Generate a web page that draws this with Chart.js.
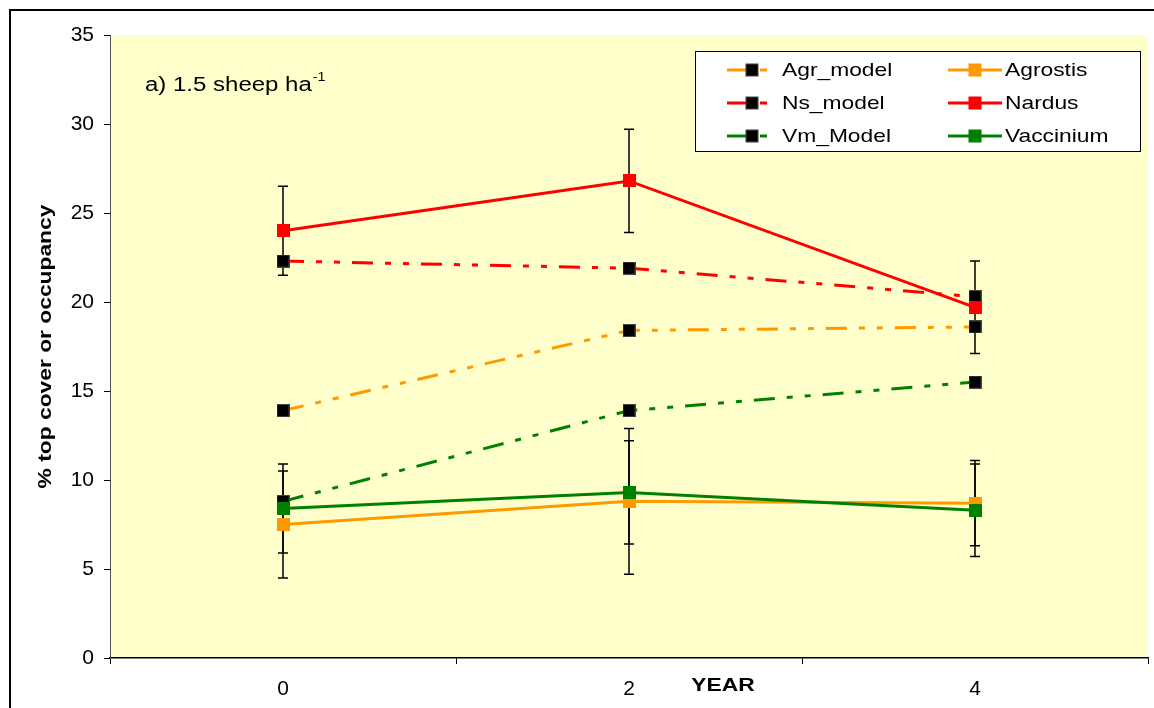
<!DOCTYPE html>
<html>
<head>
<meta charset="utf-8">
<script src="https://cdn.jsdelivr.net/npm/chart.js@4.4.1/dist/chart.umd.min.js"></script>
<style>
  html, body { margin: 0; padding: 0; background: #fff; }
  #wrap { width: 1154px; height: 708px; }
</style>
</head>
<body>
<div id="wrap"><canvas id="chart" width="1154" height="708"></canvas></div>
<script>
// values
const years = ['0', '2', '4'];
const yTicks = [0, 5, 10, 15, 20, 25, 30, 35];

const agrModel = [13.9, 18.4, 18.6];
const nsModel = [22.3, 21.9, 20.3];
const vmModel = [8.8, 13.9, 15.5];

const agrostis = [7.5, 8.8, 8.7];
const nardus = [24.0, 26.8, 19.7];
const vaccinium = [8.4, 9.3, 8.3];

// +/- error for the observed series
const agrostisErr = [3.0, 4.1, 2.4];
const nardusErr = [2.5, 2.9, 2.6];
const vacciniumErr = [2.5, 2.9, 2.6];

const ORANGE = '#FF9900';
const RED = '#FF0000';
const GREEN = '#008000';
const FONT = 'Arial, "Liberation Sans", sans-serif';
const STRETCH = 1.2; // the source text is a bit wider than plain Arial
const dashDotDot = [21, 12, 6, 12, 6, 12];

// square marker as a small canvas, so the layout does not reserve room for a big radius
function squareMarker(fill, edge) {
  const c = document.createElement('canvas');
  c.width = 13; c.height = 13;
  const g = c.getContext('2d');
  g.fillStyle = edge;
  g.fillRect(0, 0, 13, 13);
  g.fillStyle = fill;
  g.fillRect(1, 1, 11, 11);
  return c;
}

function modelSet(label, data, color, order) {
  return {
    label, data, order,
    borderColor: color,
    borderWidth: 3,
    borderDash: dashDotDot,
    pointStyle: squareMarker('#000', '#444'),
    pointRadius: 4,
    pointHoverRadius: 4,
    pointBorderWidth: 0,
    markerFill: '#000',
    markerEdge: '#444',
    tension: 0,
    isModel: true
  };
}

function obsSet(label, data, color, err, order) {
  return {
    label, data, order,
    borderColor: color,
    borderWidth: 3,
    pointStyle: squareMarker(color, color),
    pointRadius: 4,
    pointHoverRadius: 4,
    pointBorderWidth: 0,
    markerFill: color,
    markerEdge: color,
    tension: 0,
    err
  };
}

const datasets = [
  modelSet('Agr_model', agrModel, ORANGE, 6),
  obsSet('Agrostis', agrostis, ORANGE, agrostisErr, 3),
  modelSet('Ns_model', nsModel, RED, 5),
  obsSet('Nardus', nardus, RED, nardusErr, 2),
  modelSet('Vm_Model', vmModel, GREEN, 4),
  obsSet('Vaccinium', vaccinium, GREEN, vacciniumErr, 1)
];

// text drawn a little wider, like the original
function wideText(ctx, text, x, y, font, align) {
  ctx.save();
  ctx.font = font;
  ctx.translate(x, y);
  ctx.scale(STRETCH, 1);
  ctx.textAlign = align || 'left';
  ctx.fillText(text, 0, 0);
  const w = ctx.measureText(text).width * STRETCH;
  ctx.restore();
  return w;
}

// frame + plot background
const backdrop = {
  id: 'backdrop',
  beforeDraw(chart) {
    const { ctx, chartArea: a } = chart;
    ctx.save();
    ctx.fillStyle = '#FFFFCC';
    ctx.fillRect(a.left, a.top, a.right - a.left, a.bottom - a.top);
    ctx.strokeStyle = '#000';
    ctx.lineWidth = 2;
    ctx.beginPath();
    ctx.moveTo(10, 710);
    ctx.lineTo(10, 10);
    ctx.lineTo(1160, 10);
    ctx.stroke();
    ctx.restore();
  }
};

// vertical error bars with caps, behind the lines
const errorBars = {
  id: 'errorBars',
  beforeDatasetsDraw(chart) {
    const { ctx } = chart;
    const x = chart.scales.x, y = chart.scales.y;
    ctx.save();
    ctx.strokeStyle = '#000';
    ctx.lineWidth = 1.5;
    chart.data.datasets.forEach(ds => {
      if (!ds.err) return;
      ds.data.forEach((v, i) => {
        const px = x.getPixelForValue(i);
        const hi = y.getPixelForValue(v + ds.err[i]);
        const lo = y.getPixelForValue(v - ds.err[i]);
        ctx.beginPath();
        ctx.moveTo(px, hi); ctx.lineTo(px, lo);
        ctx.moveTo(px - 5, hi); ctx.lineTo(px + 5, hi);
        ctx.moveTo(px - 5, lo); ctx.lineTo(px + 5, lo);
        ctx.stroke();
      });
    });
    ctx.restore();
  }
};

// legend box, panel label and axis titles
const extras = {
  id: 'extras',
  afterDraw(chart) {
    const { ctx, chartArea: a } = chart;
    ctx.save();
    // legend
    ctx.fillStyle = '#fff';
    ctx.fillRect(695, 51, 445, 100);
    ctx.strokeStyle = '#000';
    ctx.lineWidth = 1;
    ctx.strokeRect(695.5, 51.5, 445, 100);

    const rows = [70, 103, 136];
    const cols = [
      { x0: 727, x1: 767, mx: 752, tx: 782 },
      { x0: 948, x1: 1002, mx: 975, tx: 1005 }
    ];
    const order = [['Agr_model', 'Agrostis'], ['Ns_model', 'Nardus'], ['Vm_Model', 'Vaccinium']];
    order.forEach((pair, r) => {
      pair.forEach((name, c) => {
        const ds = chart.data.datasets.find(d => d.label === name);
        const col = cols[c], yy = rows[r];
        ctx.strokeStyle = ds.borderColor;
        ctx.lineWidth = 3;
        ctx.beginPath();
        if (ds.isModel) {
          ctx.moveTo(col.x0, yy); ctx.lineTo(col.mx, yy);
          ctx.moveTo(col.mx + 8, yy); ctx.lineTo(col.x1, yy);
        } else {
          ctx.moveTo(col.x0, yy); ctx.lineTo(col.x1, yy);
        }
        ctx.stroke();
        ctx.fillStyle = ds.markerEdge;
        ctx.fillRect(col.mx - 6.5, yy - 6.5, 13, 13);
        ctx.fillStyle = ds.markerFill;
        ctx.fillRect(col.mx - 5.5, yy - 5.5, 11, 11);
        ctx.fillStyle = '#000';
        ctx.textBaseline = 'middle';
        wideText(ctx, name, col.tx, yy + 1, '19px ' + FONT);
      });
    });

    // panel label
    ctx.fillStyle = '#000';
    ctx.textBaseline = 'alphabetic';
    const w = wideText(ctx, 'a) 1.5 sheep ha', 145, 91, '20px ' + FONT);
    wideText(ctx, '-1', 145 + w + 1, 81, '12px ' + FONT);

    // x title
    ctx.textBaseline = 'middle';
    wideText(ctx, 'YEAR', 723, 686, 'bold 19px ' + FONT, 'center');

    // y title, rotated
    ctx.save();
    ctx.translate(46, (a.top + a.bottom) / 2);
    ctx.rotate(-Math.PI / 2);
    wideText(ctx, '% top cover or occupancy', 0, 0, 'bold 19px ' + FONT, 'center');
    ctx.restore();
    ctx.restore();
  }
};

new Chart(document.getElementById('chart'), {
  type: 'line',
  data: { labels: years, datasets },
  options: {
    responsive: false,
    animation: false,
    layout: { padding: { left: 10, top: 35, right: 6, bottom: 0 } },
    plugins: {
      legend: { display: false },
      tooltip: { enabled: false }
    },
    scales: {
      x: {
        type: 'category',
        offset: true,
        afterFit: s => { s.height = 50; },
        grid: { offset: true, drawOnChartArea: false, tickLength: 6, color: '#000', lineWidth: 1 },
        border: { color: '#000', width: 1.5 },
        ticks: { color: '#000', padding: 13, font: { family: FONT, size: 21 } }
      },
      y: {
        min: 0,
        max: 35,
        afterFit: s => { s.width = 100; },
        afterBuildTicks: s => { s.ticks = yTicks.map(v => ({ value: v })); },
        grid: { drawOnChartArea: false, tickLength: 6, color: '#000', lineWidth: 1 },
        border: { color: '#555', width: 1 },
        ticks: { color: '#000', padding: 10, font: { family: FONT, size: 21 } }
      }
    }
  },
  plugins: [backdrop, errorBars, extras]
});
</script>
</body>
</html>
